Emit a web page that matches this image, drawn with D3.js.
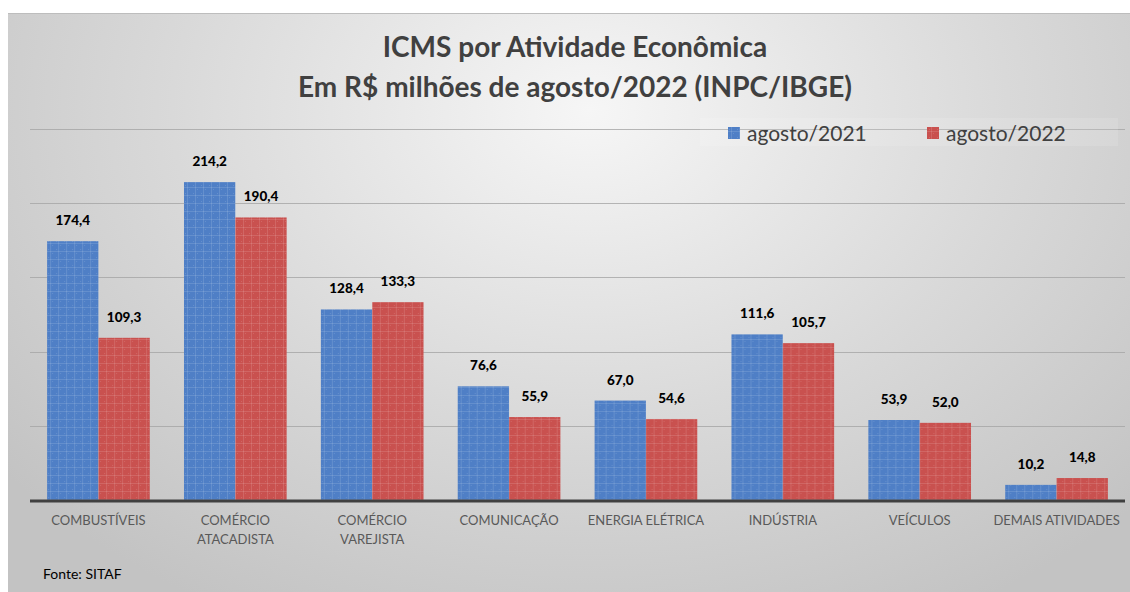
<!DOCTYPE html>
<html><head><meta charset="utf-8">
<script src="https://cdn.jsdelivr.net/npm/d3@7"></script>
<style>body{margin:0;background:#fff}svg{display:block}</style>
</head><body>
<script>
const categories = [["COMBUSTÍVEIS"],["COMÉRCIO","ATACADISTA"],["COMÉRCIO","VAREJISTA"],["COMUNICAÇÃO"],["ENERGIA ELÉTRICA"],["INDÚSTRIA"],["VEÍCULOS"],["DEMAIS ATIVIDADES"]];
const seriesNames = ["agosto/2021","agosto/2022"];
const values2021 = [174.4,214.2,128.4,76.6,67.0,111.6,53.9,10.2];
const values2022 = [109.3,190.4,133.3,55.9,54.6,105.7,52.0,14.8];
const yTicks = [0,50,100,150,200,250];
const colors = ["#4f7fc6","#c9514f"];
const titleLines = ["ICMS por Atividade Econômica","Em R$ milhões de agosto/2022 (INPC/IBGE)"];

const W=1130,H=592;
const svg=d3.select("body").append("svg").attr("width",W).attr("height",H);
const defs=svg.append("defs");
const rg=defs.append("radialGradient").attr("id","bg").attr("gradientUnits","userSpaceOnUse")
  .attr("cx",590).attr("cy",110).attr("r",760).attr("gradientTransform","translate(590,110) scale(1,0.75) translate(-590,-110)");
rg.append("stop").attr("offset","0").attr("stop-color","#f6f6f6");
rg.append("stop").attr("offset","0.55").attr("stop-color","#d9d9d9");
rg.append("stop").attr("offset","1").attr("stop-color","#c3c3c3");
colors.forEach((c,i)=>{
  const p=defs.append("pattern").attr("id","pat"+i).attr("patternUnits","userSpaceOnUse").attr("width",8).attr("height",8);
  p.append("rect").attr("width",8).attr("height",8).attr("fill",c);
  p.append("rect").attr("x",0).attr("y",3).attr("width",8).attr("height",1).attr("fill","#fff").attr("opacity",0.12);
  p.append("rect").attr("x",3).attr("y",0).attr("width",1).attr("height",8).attr("fill","#fff").attr("opacity",0.12);
  p.append("rect").attr("x",1).attr("y",1).attr("width",1).attr("height",1).attr("fill","#fff").attr("opacity",0.12);
  p.append("rect").attr("x",5).attr("y",5).attr("width",1).attr("height",1).attr("fill","#fff").attr("opacity",0.12);
});

svg.append("rect").attr("x",8).attr("y",13).attr("width",W-8).attr("height",H-13).attr("fill","url(#bg)");
svg.append("line").attr("x1",8).attr("x2",W).attr("y1",13.5).attr("y2",13.5).attr("stroke","#bdbdbd");

const x0=d3.scaleBand().domain(d3.range(categories.length)).range([30,1125]).paddingInner(0.25).paddingOuter(0.125);
const x1=d3.scaleBand().domain([0,1]).range([0,x0.bandwidth()]);
const y=d3.scaleLinear().domain([0,250]).range([500,129]);

// gridlines
svg.append("g").selectAll("line").data(yTicks.filter(d=>d>0)).join("line")
  .attr("x1",30).attr("x2",1125).attr("y1",d=>Math.round(y(d))+0.5).attr("y2",d=>Math.round(y(d))+0.5)
  .attr("stroke","#a6a6a6").attr("stroke-width",1).attr("opacity",0.8);

// title
const title=svg.append("text").attr("text-anchor","middle").attr("font-family","Lato, 'Open Sans', sans-serif")
  .attr("font-weight","bold").attr("font-size",28).attr("fill","#404040");
titleLines.forEach((t,i)=>title.append("tspan").attr("x",575).attr("y",57+i*40).text(t));

// legend
svg.append("rect").attr("x",700).attr("y",118).attr("width",418).attr("height",28).attr("fill","#ffffff").attr("opacity",0.12);
const leg=svg.append("g");
const legX=[728,927];
seriesNames.forEach((n,i)=>{
  leg.append("rect").attr("x",legX[i]).attr("y",127).attr("width",12).attr("height",12).attr("fill","url(#pat"+i+")");
  leg.append("text").attr("x",legX[i]+19).attr("y",141).attr("font-family","Lato, sans-serif").attr("font-size",21).attr("fill","#404040").text(n);
});

// bars
const data=categories.map((c,i)=>({i,vals:[values2021[i],values2022[i]]}));
const g=svg.append("g").selectAll("g").data(data).join("g").attr("transform",d=>`translate(${x0(d.i)},0)`);
g.selectAll("rect").data(d=>d.vals.map((v,k)=>({v,k}))).join("rect")
  .attr("x",d=>x1(d.k)).attr("width",x1.bandwidth()).attr("y",d=>y(d.v)).attr("height",d=>y(0)-y(d.v))
  .attr("fill",d=>`url(#pat${d.k})`);
g.selectAll("text").data(d=>d.vals.map((v,k)=>({v,k}))).join("text")
  .attr("x",d=>x1(d.k)+x1.bandwidth()/2).attr("y",d=>y(d.v)-16).attr("text-anchor","middle")
  .attr("font-family","Lato, sans-serif").attr("font-weight","900").attr("font-size",13.5).attr("fill","#000")
  .text(d=>d3.format(".1f")(d.v).replace(".",","));

// baseline
svg.append("line").attr("x1",30).attr("x2",1125).attr("y1",501).attr("y2",501).attr("stroke","#404040").attr("stroke-width",3);

// category labels
const cl=svg.append("g").selectAll("text").data(categories).join("text")
  .attr("text-anchor","middle").attr("font-family","Lato, sans-serif").attr("font-size",13).attr("fill","#595959");
cl.each(function(lines,i){
  const t=d3.select(this);
  lines.forEach((l,j)=>t.append("tspan").attr("x",x0(i)+x0.bandwidth()/2).attr("y",525+j*19).text(l));
});

svg.append("text").attr("x",43).attr("y",579).attr("font-family","Lato, sans-serif").attr("font-size",14).attr("fill","#000").text("Fonte: SITAF");
</script>
</body></html>
